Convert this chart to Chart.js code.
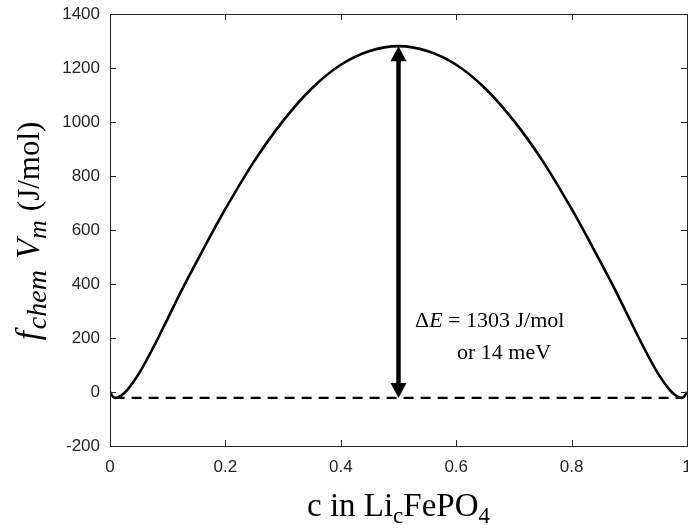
<!DOCTYPE html>
<html>
<head>
<meta charset="utf-8">
<script src="https://cdn.jsdelivr.net/npm/chart.js@4/dist/chart.umd.min.js"></script>
<style>
  html, body { margin: 0; padding: 0; background: #ffffff; }
  #wrap { width: 688px; height: 529px; position: relative; }
</style>
</head>
<body>
<div id="wrap"><canvas id="c" width="688" height="529"></canvas></div>
<script>
// Composition c in LicFePO4
const cValues = [0, 0.005, 0.01, 0.02, 0.03, 0.05, 0.075, 0.1, 0.125, 0.15, 0.175, 0.2, 0.25, 0.3, 0.35, 0.4, 0.45, 0.5,
                 0.55, 0.6, 0.65, 0.7, 0.75, 0.8, 0.825, 0.85, 0.875, 0.9, 0.925, 0.95, 0.97, 0.98, 0.99, 0.995, 1];
// f_chem * V_m (J/mol)
const fValues = [0, -17, -22, -12, 8, 68, 165, 272, 380, 482, 582, 678, 855, 1004, 1125, 1212, 1263, 1281,
                 1263, 1212, 1125, 1004, 855, 678, 582, 482, 380, 272, 165, 68, 8, -12, -22, -17, 0];
// dashed reference line (curve minimum)
const baseX = [0.008, 0.992];
const baseY = [-22, -22];
// double arrow for the energy barrier
const arrowX = [0.5, 0.5];
const arrowY = [-22, 1281];
// axis ticks
const xTicks = [0, 0.2, 0.4, 0.6, 0.8, 1];
const yTicks = [-200, 0, 200, 400, 600, 800, 1000, 1200, 1400];
const annotLine1 = ["\u0394", "E", " = 1303 J/mol"];
const annotLine2 = "or 14 meV";

const AXIS_COLOR = '#262626';
const SERIF = '"Liberation Serif", "Times New Roman", serif';

const curveData = cValues.map((c, i) => ({ x: c, y: fValues[i] }));
const baseData = baseX.map((x, i) => ({ x: x, y: baseY[i] }));

function drawPieces(ctx, pieces, startX, baseY) {
  let x = startX;
  for (const p of pieces) {
    ctx.font = p.font;
    ctx.fillText(p.t, x, baseY + (p.dy || 0));
    x += ctx.measureText(p.t).width + (p.gap || 0);
  }
}
function piecesWidth(ctx, pieces) {
  let w = 0;
  for (const p of pieces) { ctx.font = p.font; w += ctx.measureText(p.t).width + (p.gap || 0); }
  return w;
}

const decor = {
  id: 'decor',
  afterDatasetsDraw(chart) {
    const ctx = chart.ctx;
    const xs = chart.scales.x, ys = chart.scales.y;
    const a = chart.chartArea;
    ctx.save();
    // box
    ctx.strokeStyle = AXIS_COLOR;
    ctx.lineWidth = 1;
    ctx.strokeRect(a.left + 0.5, a.top + 0.5, a.right - a.left, a.bottom - a.top);
    // inward ticks
    const tl = 6;
    ctx.beginPath();
    for (const v of xTicks) {
      const px = Math.round(xs.getPixelForValue(v)) + 0.5;
      ctx.moveTo(px, a.bottom); ctx.lineTo(px, a.bottom - tl);
      ctx.moveTo(px, a.top); ctx.lineTo(px, a.top + tl);
    }
    for (const v of yTicks) {
      const py = Math.round(ys.getPixelForValue(v)) + 0.5;
      ctx.moveTo(a.left, py); ctx.lineTo(a.left + tl, py);
      ctx.moveTo(a.right, py); ctx.lineTo(a.right - tl, py);
    }
    ctx.stroke();

    // double arrow
    const ax = xs.getPixelForValue(arrowX[0]);
    const y0 = ys.getPixelForValue(arrowY[0]);
    const y1 = ys.getPixelForValue(arrowY[1]);
    const headL = 15, headW = 8;
    ctx.strokeStyle = '#000';
    ctx.fillStyle = '#000';
    ctx.lineWidth = 4.5;
    ctx.beginPath();
    ctx.moveTo(ax, y1 + headL - 2);
    ctx.lineTo(ax, y0 - headL + 2);
    ctx.stroke();
    ctx.beginPath();
    ctx.moveTo(ax, y1); ctx.lineTo(ax - headW, y1 + headL); ctx.lineTo(ax + headW, y1 + headL); ctx.closePath();
    ctx.fill();
    ctx.beginPath();
    ctx.moveTo(ax, y0); ctx.lineTo(ax - headW, y0 - headL); ctx.lineTo(ax + headW, y0 - headL); ctx.closePath();
    ctx.fill();

    // annotation
    ctx.fillStyle = '#000';
    ctx.textBaseline = 'alphabetic';
    ctx.textAlign = 'left';
    const f1 = '22px ' + SERIF, f1i = 'italic 22px ' + SERIF;
    drawPieces(ctx, [
      { t: annotLine1[0], font: f1 },
      { t: annotLine1[1], font: f1i },
      { t: annotLine1[2], font: f1 }
    ], 415, 327);
    ctx.font = f1;
    ctx.fillText(annotLine2, 457, 359);

    // x title
    const xt = [
      { t: 'c in Li', font: '33px ' + SERIF },
      { t: 'c', font: '23px ' + SERIF, dy: 7 },
      { t: 'FePO', font: '33px ' + SERIF },
      { t: '4', font: '23px ' + SERIF, dy: 7 }
    ];
    const xw = piecesWidth(ctx, xt);
    drawPieces(ctx, xt, (a.left + a.right) / 2 - xw / 2, 516);

    // y title (rotated)
    const yt = [
      { t: 'f', font: 'italic 33px ' + SERIF, gap: 2 },
      { t: 'chem', font: 'italic 28px ' + SERIF, dy: 7, gap: 11 },
      { t: 'V', font: 'italic 33px ' + SERIF },
      { t: 'm', font: 'italic 26px ' + SERIF, dy: 7, gap: 9 },
      { t: '(J/mol)', font: '31px ' + SERIF }
    ];
    const yw = piecesWidth(ctx, yt);
    ctx.translate(39, 231);
    ctx.rotate(-Math.PI / 2);
    drawPieces(ctx, yt, -yw / 2, 0);
    ctx.restore();
  }
};

new Chart(document.getElementById('c'), {
  type: 'line',
  data: {
    datasets: [
      {
        data: curveData,
        borderColor: '#000',
        borderWidth: 2.6,
        pointRadius: 0,
        cubicInterpolationMode: 'monotone',
        fill: false
      },
      {
        data: baseData,
        borderColor: '#000',
        borderWidth: 2.2,
        borderDash: [10, 7],
        pointRadius: 0,
        fill: false
      }
    ]
  },
  options: {
    responsive: false,
    animation: false,
    devicePixelRatio: 1,
    layout: { autoPadding: false, padding: { top: 14, right: 1, left: 0, bottom: 0 } },
    plugins: { legend: { display: false }, tooltip: { enabled: false } },
    scales: {
      x: {
        type: 'linear',
        min: 0, max: 1,
        afterFit(s) { s.height = 83; s.paddingLeft = 0; s.paddingRight = 0; },
        afterBuildTicks(s) { s.ticks = xTicks.map(v => ({ value: v })); },
        grid: { display: false, drawTicks: false },
        border: { display: false },
        ticks: {
          padding: 11,
          color: AXIS_COLOR,
          font: { family: '"Liberation Sans", Arial, Helvetica, sans-serif', size: 17 },
          maxRotation: 0,
          callback: v => String(Math.round(v * 10) / 10)
        }
      },
      y: {
        type: 'linear',
        min: -200, max: 1400,
        afterFit(s) { s.width = 110; s.paddingTop = 0; s.paddingBottom = 0; },
        afterBuildTicks(s) { s.ticks = yTicks.map(v => ({ value: v })); },
        grid: { display: false, drawTicks: false },
        border: { display: false },
        ticks: {
          padding: 10,
          color: AXIS_COLOR,
          font: { family: '"Liberation Sans", Arial, Helvetica, sans-serif', size: 17 },
          callback: v => String(v)
        }
      }
    }
  },
  plugins: [decor]
});
</script>
</body>
</html>
